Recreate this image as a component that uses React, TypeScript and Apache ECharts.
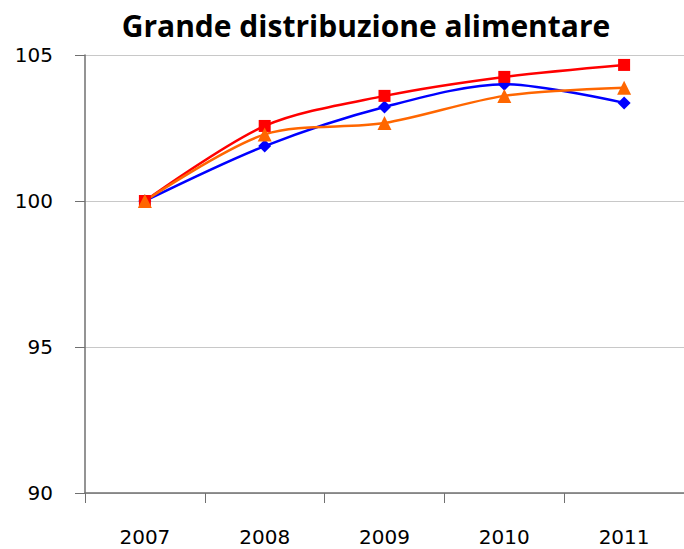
import React, { useEffect, useRef } from "react";
import * as echarts from "echarts";

const years = ["2007", "2008", "2009", "2010", "2011"];
const blueSeries = [100, 101.88, 103.22, 104.0, 103.36];
const redSeries = [100, 102.57, 103.6, 104.25, 104.66];
const orangeSeries = [100, 102.28, 102.67, 103.6, 103.88];
const titleText = "Grande distribuzione alimentare";

export default function App() {
  const ref = useRef<HTMLDivElement>(null);
  useEffect(() => {
    if (!ref.current) return;
    const chart = echarts.init(ref.current, null, { renderer: "svg" });
    const mk = (name: string, data: number[], color: string, symbol: string, size: number) => ({
      name,
      type: "line",
      data,
      smooth: 0.3,
      symbol,
      symbolSize: size,
      showSymbol: true,
      lineStyle: { color, width: 2.5 },
      itemStyle: { color },
      emphasis: { disabled: true },
    });
    chart.setOption({
      animation: false,
      backgroundColor: "#ffffff",
      title: {
        text: titleText,
        left: 361,
        top: 5,
        textAlign: "center",
        textStyle: {
          fontFamily: "Open Sans",
          fontWeight: "bold",
          fontSize: 30,
          color: "#000",
        },
      },
      grid: { left: 85, top: 55, width: 601, height: 438 },
      xAxis: {
        type: "category",
        data: years,
        boundaryGap: true,
        axisLine: { lineStyle: { color: "#707070", width: 1.5 } },
        axisTick: { show: true, length: 10, lineStyle: { color: "#707070" } },
        axisLabel: {
          margin: 34,
          fontFamily: "DejaVu Sans",
          fontSize: 20,
          color: "#000",
        },
        splitLine: { show: false },
      },
      yAxis: {
        type: "value",
        min: 90,
        max: 105,
        interval: 5,
        axisLine: { show: true, lineStyle: { color: "#707070", width: 1.5 } },
        axisTick: { show: true, length: 10, lineStyle: { color: "#707070" } },
        axisLabel: {
          margin: 32,
          fontFamily: "DejaVu Sans",
          fontSize: 20,
          color: "#000",
        },
        splitLine: { show: true, lineStyle: { color: "#c8c8c8", width: 1 } },
      },
      series: [
        mk("Blu", blueSeries, "#0000ff", "diamond", 13),
        mk("Rosso", redSeries, "#ff0000", "rect", 12),
        mk("Arancio", orangeSeries, "#ff6600", "triangle", 14),
      ],
    });
    return () => chart.dispose();
  }, []);
  return (
    <div
      ref={ref}
      style={{ position: "fixed", left: 0, top: 0, width: 684, height: 549 }}
    />
  );
}
